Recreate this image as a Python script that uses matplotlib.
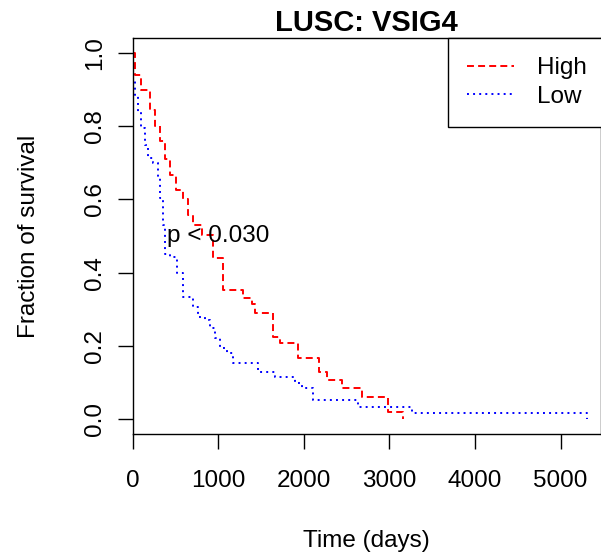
import matplotlib
matplotlib.use("Agg")
import matplotlib.pyplot as plt

# Kaplan-Meier steps (time in days, survival fraction)
high_time = [0, 27, 97, 202, 260, 319, 377, 436, 506, 588, 646, 704, 810,
             938, 1055, 1289, 1394, 1429, 1639, 1721, 1931, 2177, 2270,
             2446, 2679, 2983, 3154]
high_surv = [1.0, 0.94, 0.90, 0.845, 0.80, 0.76, 0.71, 0.667, 0.625, 0.60,
             0.557, 0.53, 0.503, 0.44, 0.352, 0.33, 0.314, 0.29, 0.224,
             0.208, 0.167, 0.128, 0.107, 0.085, 0.06, 0.019, 0.0]

low_time = [0, 4, 27, 62, 97, 144, 179, 237, 296, 319, 354, 377, 436, 518,
            588, 704, 763, 845, 903, 961, 1020, 1102, 1172, 1464, 1663,
            1897, 1978, 2107, 2632, 3263, 5308]
low_surv = [1.0, 0.93, 0.885, 0.84, 0.795, 0.75, 0.713, 0.70, 0.658, 0.604,
            0.53, 0.45, 0.443, 0.40, 0.333, 0.306, 0.279, 0.27, 0.25, 0.22,
            0.194, 0.18, 0.153, 0.128, 0.115, 0.098, 0.085, 0.052, 0.033,
            0.016, 0.0]

x_ticks = [0, 1000, 2000, 3000, 4000, 5000]
y_ticks = [0.0, 0.2, 0.4, 0.6, 0.8, 1.0]
p_label = "p < 0.030"


def main():
    """
    Draws the survival curves for the High and Low groups
    and saves the figure as out.png
    """
    plt.rcParams["font.family"] = ["Liberation Sans", "DejaVu Sans"]
    plt.rcParams["lines.scale_dashes"] = False
    size = 17.5

    fig = plt.figure(figsize=(6.01, 5.58), dpi=100)
    ax = fig.add_axes([0.2208, 0.2222, 0.7792, 0.7097])

    ax.step(high_time, high_surv, where="post", color="#FF0000",
            linewidth=1.4, linestyle=(0, (5, 3)), label="High")
    ax.step(low_time, low_surv, where="post", color="#0000FF",
            linewidth=1.4, linestyle=(0, (1.4, 3)), label="Low")

    ax.text(1000, 0.5, p_label, fontsize=size, ha="center", va="center")

    ax.set_xlim(0, 5471)
    ax.set_ylim(-0.041, 1.041)
    ax.set_xticks(x_ticks)
    ax.set_xticklabels([str(v) for v in x_ticks])
    ax.set_yticks(y_ticks)
    ax.set_yticklabels(["%.1f" % v for v in y_ticks], rotation=90,
                       va="center")
    ax.tick_params(axis="both", length=10.8, width=1, labelsize=size)
    ax.tick_params(axis="x", pad=15)
    ax.tick_params(axis="y", pad=8.6)
    for spine in ax.spines.values():
        spine.set_linewidth(1)

    ax.set_title("LUSC: VSIG4", fontsize=21, fontweight="bold", pad=5)
    ax.set_xlabel("Time (days)", fontsize=size, va="top")
    ax.xaxis.set_label_coords(0.5, -0.242)
    ax.set_ylabel("Fraction of survival", fontsize=size)
    ax.yaxis.set_label_coords(-0.198, 0.5)

    leg = ax.legend(loc="upper left", bbox_to_anchor=(0.673, 1.0),
                    fontsize=size, frameon=True, fancybox=False,
                    edgecolor="black", framealpha=1, borderaxespad=0,
                    handlelength=1.93, handletextpad=0.95, borderpad=0.8,
                    labelspacing=0.25)
    leg.get_frame().set_linewidth(1)

    fig.savefig("out.png", dpi=100)


if __name__ == "__main__":
    main()
